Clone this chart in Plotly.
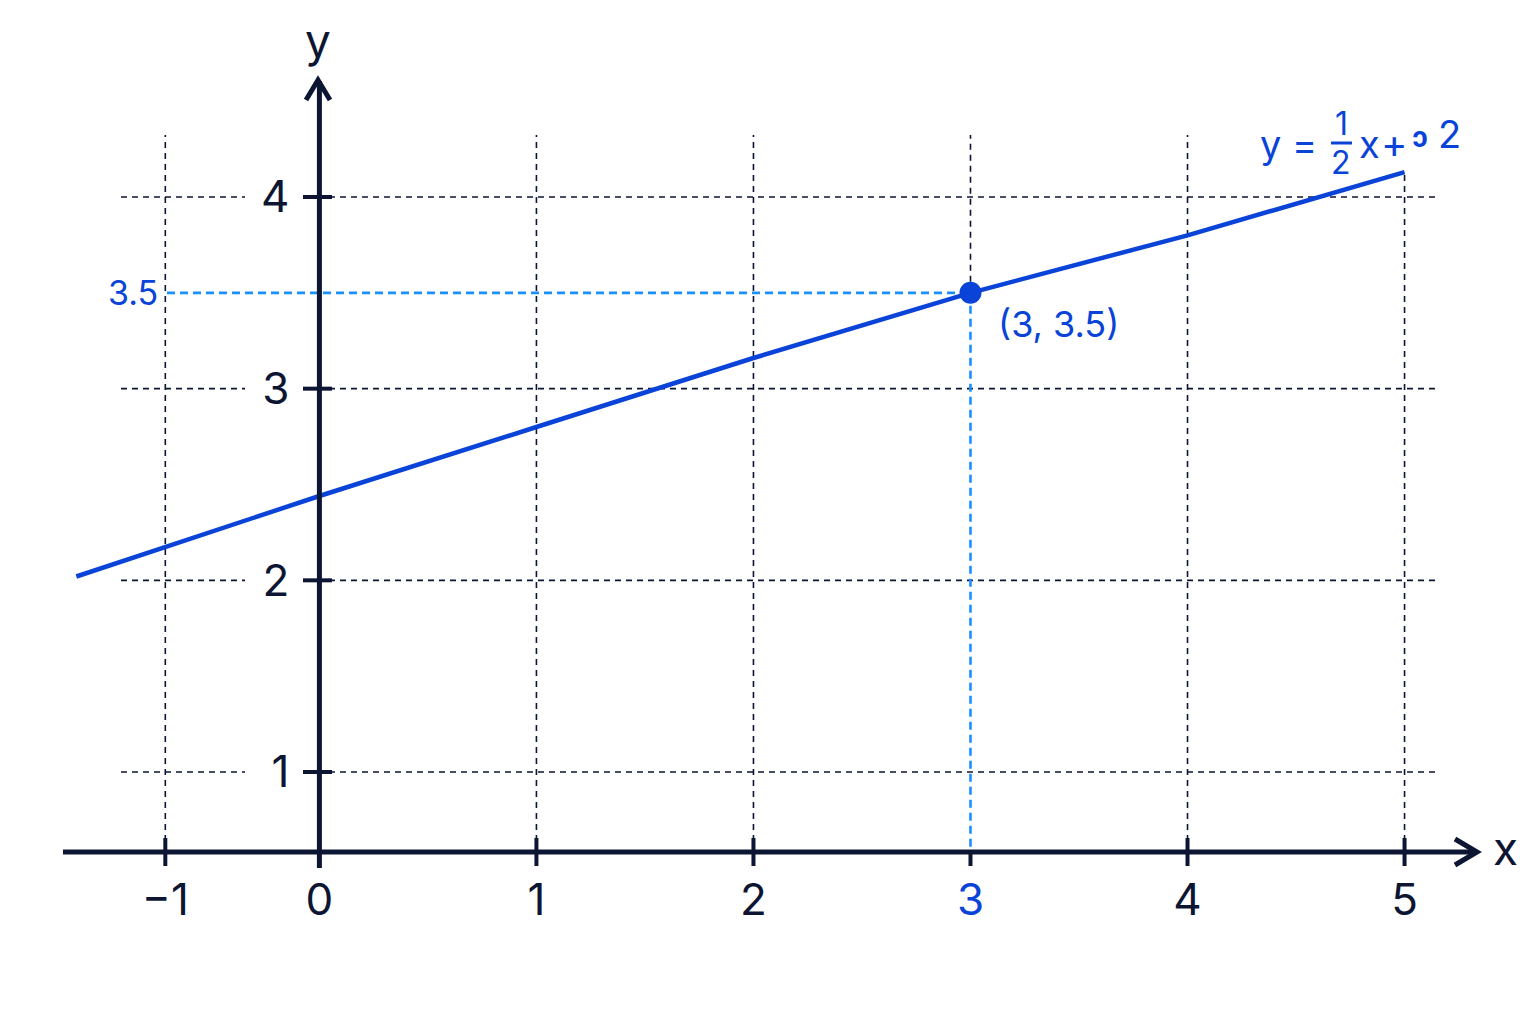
import plotly.graph_objects as go

# ---------------- data ----------------
x_tick_values = [-0.71, 0, 1, 2, 3, 4, 5]          # -1 is drawn closer to 0 in the reference
x_tick_labels = ["−1", "0", "1", "2", "3", "4", "5"]
y_tick_values = [1, 2, 3, 4]
y_tick_labels = ["1", "2", "3", "4"]

line_x = [-1.12, 0, 1, 2, 3, 4, 5]
line_y = [2.02, 2.44, 2.80, 3.16, 3.50, 3.80, 4.13]

point_x = [3]
point_y = [3.5]
point_label = "(3, 3.5)"
guide_label = "3.5"

# ---------------- styling ----------------
W, H = 1536, 1024
NAVY = "#0c1633"
BLUE = "#0a43d8"
LIGHT = "#1a90ff"
FONT = "Inter"

X0PX, XS = 319.4, 217.03
Y0PX, YS = 963.67, 191.67


def X(px):
    return (px - X0PX) / XS


def Y(py):
    return (Y0PX - py) / YS


def PX(px):
    return px / W


def PY(py):
    return 1 - py / H


fig = go.Figure()

fig.add_trace(go.Scatter(x=line_x, y=line_y, mode="lines",
                         line=dict(color=BLUE, width=4.5), hoverinfo="skip",
                         showlegend=False, cliponaxis=False))
fig.add_trace(go.Scatter(x=point_x, y=point_y, mode="markers",
                         marker=dict(color=BLUE, size=22), hoverinfo="skip",
                         showlegend=False, cliponaxis=False))

shapes = []
grid = dict(color=NAVY, width=1.6, dash="6px,5px")
light = dict(color=LIGHT, width=2.6, dash="8px,5px")

# vertical grid lines
for xv in x_tick_values:
    if xv == 0:
        continue
    top = Y(175) if xv == line_x[-1] else Y(135)
    bottom = Y(852)
    if xv == point_x[0]:
        bottom = point_y[0]
    shapes.append(dict(type="line", xref="x", yref="y", x0=xv, x1=xv,
                       y0=bottom, y1=top, line=grid, layer="below"))

# horizontal grid lines (gap behind the tick labels)
for yv in y_tick_values:
    shapes.append(dict(type="line", xref="x", yref="y", x0=X(121), x1=X(245),
                       y0=yv, y1=yv, line=grid, layer="below"))
    shapes.append(dict(type="line", xref="x", yref="y", x0=X(318), x1=X(1440),
                       y0=yv, y1=yv, line=grid, layer="below"))

# guide lines to the point
shapes.append(dict(type="line", xref="x", yref="y", x0=X(167), x1=point_x[0],
                   y0=point_y[0], y1=point_y[0], line=light, layer="below"))
shapes.append(dict(type="line", xref="x", yref="y", x0=point_x[0], x1=point_x[0],
                   y0=point_y[0], y1=Y(852), line=light, layer="below"))

axis_line = dict(color=NAVY, width=5)
# x axis with arrow
shapes.append(dict(type="line", xref="x", yref="y", x0=X(63), x1=X(1475),
                   y0=Y(852), y1=Y(852), line=axis_line))
shapes.append(dict(type="path", xref="x", yref="y",
                   path=f"M{X(1455)},{Y(839)} L{X(1477)},{Y(852)} L{X(1455)},{Y(865)}",
                   line=axis_line))
# y axis with arrow
shapes.append(dict(type="line", xref="x", yref="y", x0=0, x1=0,
                   y0=Y(868), y1=Y(81), line=axis_line))
shapes.append(dict(type="path", xref="x", yref="y",
                   path=f"M{X(306)},{Y(100)} L{X(318)},{Y(80)} L{X(330)},{Y(100)}",
                   line=axis_line))

tick = dict(color=NAVY, width=4)
for xv in x_tick_values:
    if xv == 0:
        continue
    y_top = Y(852) if xv == point_x[0] else Y(838)
    shapes.append(dict(type="line", xref="x", yref="y", x0=xv, x1=xv,
                       y0=Y(866), y1=y_top, line=tick))
for yv in y_tick_values:
    shapes.append(dict(type="line", xref="x", yref="y", x0=X(303), x1=X(332),
                       y0=yv, y1=yv, line=tick))

# fraction bar of the equation
shapes.append(dict(type="line", xref="paper", yref="paper", x0=PX(1331), x1=PX(1352),
                   y0=PY(143), y1=PY(143), line=dict(color=BLUE, width=3)))

annotations = []


def ann(text, x, y, size, color, xanchor="center", yanchor="middle",
        xref="paper", yref="paper", **kw):
    annotations.append(dict(text=text, x=x, y=y, xref=xref, yref=yref,
                            xanchor=xanchor, yanchor=yanchor, showarrow=False,
                            font=dict(family=FONT, size=size, color=color), **kw))


# axis names
ann("y", PX(318), PY(40), 46, NAVY)
ann("x", PX(1505), PY(848), 46, NAVY)

# labels tied to the point
ann(guide_label, X(160), point_y[0], 34, BLUE, xanchor="right", xref="x", yref="y")
ann(point_label, point_x[0], point_y[0], 36, BLUE, xanchor="left", xref="x", yref="y",
    xshift=26, yshift=-31)

# equation  y = 1/2 x + ɔ 2
ann("y =", PX(1288), PY(144), 38, BLUE)
ann("1", PX(1341), PY(123), 32, BLUE)
ann("2", PX(1341), PY(162), 32, BLUE)
ann("x", PX(1369), PY(144), 38, BLUE)
ann("+", PX(1394), PY(143), 40, BLUE)
ann("<b>ɔ</b>", PX(1420), PY(137), 28, BLUE)
ann("2", PX(1449.5), PY(134), 38, BLUE)

x_ticktext = [f'<span style="color:{BLUE}">{t}</span>' if v == point_x[0] else t
              for v, t in zip(x_tick_values, x_tick_labels)]

fig.update_layout(
    width=W, height=H,
    margin=dict(l=0, r=0, t=0, b=0),
    paper_bgcolor="white", plot_bgcolor="white",
    showlegend=False,
    shapes=shapes, annotations=annotations,
    xaxis=dict(range=[X(0), X(W)], anchor="free", position=1 - 852 / H,
               showgrid=False, zeroline=False, showline=False, ticks="",
               tickmode="array", tickvals=x_tick_values, ticktext=x_ticktext,
               tickfont=dict(family=FONT, size=44, color=NAVY),
               ticklabelstandoff=18, fixedrange=True),
    yaxis=dict(range=[Y(H), Y(0)], anchor="free", position=X0PX / W,
               showgrid=False, zeroline=False, showline=False, ticks="",
               tickmode="array", tickvals=y_tick_values, ticktext=y_tick_labels,
               tickfont=dict(family=FONT, size=44, color=NAVY),
               ticklabelstandoff=30, fixedrange=True),
)

fig.write_html("out.html", config={"displayModeBar": False},
               post_script="document.body.style.margin='0';document.body.style.overflow='hidden';")
